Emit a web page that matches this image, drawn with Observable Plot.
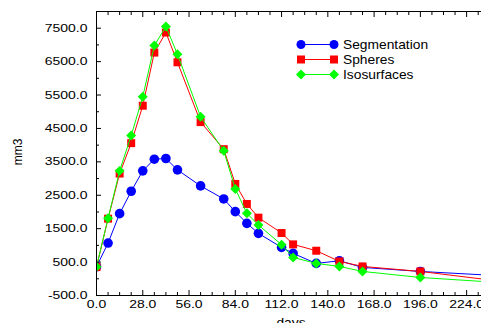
<!DOCTYPE html>
<html><head><meta charset="utf-8">
<script src="https://cdn.jsdelivr.net/npm/d3@7"></script>
<script src="https://cdn.jsdelivr.net/npm/@observablehq/plot@0.6"></script>
<style>body{margin:0;background:#fff;overflow:hidden}</style>
</head><body><div id="chart"></div>
<script>
const days = [0, 7, 14, 21, 28, 35, 42, 49, 63, 77, 84, 91, 98, 112, 119, 133, 147, 161, 196, 252];
const segmentation = [360, 1070, 1950, 2620, 3230, 3580, 3600, 3260, 2780, 2390, 2010, 1660, 1360, 940, 760, 460, 540, 340, 220, 70];
const spheres = [350, 1800, 3150, 4060, 5180, 6770, 7370, 6480, 4690, 3880, 2840, 2240, 1830, 1370, 1030, 840, 520, 370, 220, -120];
const isosurfaces = [360, 1810, 3230, 4290, 5450, 6980, 7550, 6720, 4850, 3830, 2690, 1960, 1610, 1020, 640, 460, 370, 220, 40, -140];
const seriesNames = ["Segmentation", "Spheres", "Isosurfaces"];
const seriesColors = ["#0000ff", "#ff0000", "#00ff00"];
const seriesSymbols = ["circle", "square", "diamond2"];
const xTicks = [0, 28, 56, 84, 112, 140, 168, 196, 224];
const xMinor = d3.range(0, 233, 7).filter(d => d % 28 !== 0);
const yTicks = [-500, 500, 1500, 2500, 3500, 4500, 5500, 6500, 7500];
const yMinor = [0, 1000, 2000, 3000, 4000, 5000, 6000, 7000];
const xLabel = "days";
const yLabel = "mm3";

const allValues = [segmentation, spheres, isosurfaces];
const rows = [];
allValues.forEach((vals, i) => days.forEach((d, j) => rows.push({series: seriesNames[i], day: d, value: vals[j]})));

const seriesMarks = seriesNames.flatMap((name, i) => {
  const data = rows.filter(r => r.series === name);
  return [
    Plot.line(data, {x: "day", y: "value", stroke: seriesColors[i], strokeWidth: 1, clip: true}),
    Plot.dot(data, {x: "day", y: "value", fill: seriesColors[i], stroke: "none", symbol: seriesSymbols[i], r: i === 0 ? 4.8 : 4.5, clip: true})
  ];
});

const fmt = d => d.toFixed(1);
const chart = Plot.plot({
  width: 481, height: 323,
  marginLeft: 96, marginRight: 0, marginTop: 11, marginBottom: 28,
  style: {fontFamily: "'Liberation Sans', Arial, sans-serif", fontSize: "11px", background: "#fff", color: "#000"},
  x: {domain: [0, 233], label: null},
  y: {domain: [-500, 8000], label: null},
  marks: [
    ...seriesMarks,
    Plot.ruleX([0], {stroke: "#000"}),
    Plot.ruleY([-500], {stroke: "#000"}),
    Plot.ruleY([8000], {stroke: "#000"}),
    Plot.axisX({ticks: xTicks, tickSize: -5, tickFormat: () => "", label: null}),
    Plot.axisX({ticks: xMinor, tickSize: -3, tickFormat: () => "", label: null}),
    Plot.axisX({anchor: "top", ticks: xTicks, tickSize: -5, tickFormat: () => "", label: null}),
    Plot.axisX({anchor: "top", ticks: xMinor, tickSize: -3, tickFormat: () => "", label: null}),
    Plot.axisX({ticks: xTicks, tickSize: 0, tickPadding: 5, tickFormat: fmt, label: null}),
    Plot.axisY({ticks: yTicks, tickSize: -5, tickFormat: () => "", label: null}),
    Plot.axisY({ticks: yMinor, tickSize: -3, tickFormat: () => "", label: null}),
    Plot.axisY({ticks: yTicks, tickSize: 0, tickPadding: 9, tickFormat: fmt, label: null})
  ]
});

const svg = d3.select(chart);
svg.selectAll("g[aria-label$='tick label'] text").each(function() {
  const t = this.getAttribute("transform") || "";
  this.setAttribute("transform", t + " scale(1.27,1)");
});

// axis titles
svg.append("text").attr("transform", "translate(22,152) rotate(-90)")
  .attr("text-anchor", "middle").attr("font-size", 12).attr("fill", "#000").text(yLabel);
svg.append("text").attr("transform", "translate(291,327) scale(1.15,1)")
  .attr("text-anchor", "middle").attr("font-size", 12).attr("fill", "#000").text(xLabel);

// legend
const lg = svg.append("g");
const symMap = {circle: d3.symbolCircle, square: d3.symbolSquare, diamond2: d3.symbolDiamond2};
seriesNames.forEach((name, i) => {
  const y = 44.5 + i * 15;
  const g = lg.append("g").attr("transform", `translate(0,${y})`);
  g.append("line").attr("x1", 301).attr("x2", 334).attr("y1", 0).attr("y2", 0)
    .attr("stroke", seriesColors[i]).attr("stroke-width", 1);
  [301, 334].forEach(x => g.append("path")
    .attr("d", d3.symbol(symMap[seriesSymbols[i]], i === 0 ? Math.PI * 4.5 * 4.5 : 64)())
    .attr("transform", `translate(${x},0)`).attr("fill", seriesColors[i]));
  g.append("text").attr("transform", "translate(343,0) scale(1.15,1)")
    .attr("text-anchor", "start").attr("dy", "0.36em").attr("font-size", 12).attr("fill", "#000").text(name);
});

document.getElementById("chart").appendChild(chart);
</script>
</body></html>
